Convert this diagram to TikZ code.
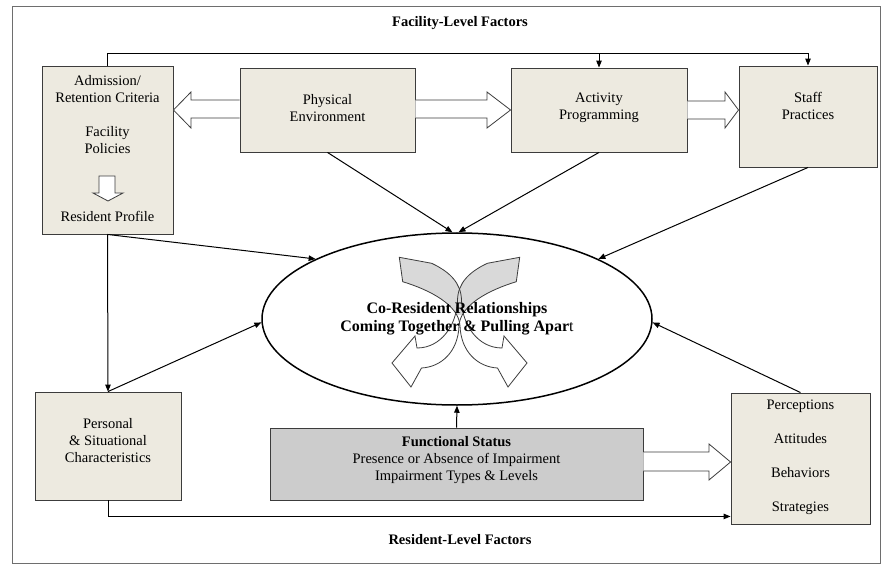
\documentclass[tikz,border=0pt]{standalone}
\usepackage{fontspec}
\setmainfont{Liberation Serif}
\usetikzlibrary{arrows.meta,shapes.geometric,calc}
\definecolor{boxfill}{RGB}{237,234,224}
\definecolor{boxline}{RGB}{60,60,60}
\definecolor{funcfill}{RGB}{204,204,204}
\definecolor{tailgray}{RGB}{217,217,217}
\definecolor{framegray}{RGB}{110,110,110}
\def\curvpath{(399.3,257.3) -- (431.7,263.3) .. controls (450,272) and (461,283) .. (461.5,300) .. controls (462,325) and (478,348) .. (502,348) -- (504,336) -- (527,363) -- (508,387) -- (497.5,368) .. controls (478,367) and (461,352) .. (460,326) .. controls (459,305) and (430,290) .. (402.7,281.7) -- cycle}
\begin{document}
\begin{tikzpicture}[x=1pt,y=-1pt,
  txt/.style={font=\fontsize{14.5}{17}\selectfont, align=center, inner sep=0pt},
  fbox/.style={draw=boxline, fill=boxfill, line width=0.9pt, inner sep=0pt, rectangle},
  conn/.style={line width=1pt, -{Triangle[length=7pt,width=5.5pt]}},
  fat/.style={draw=boxline, fill=white, line width=0.8pt, line join=miter},
  curv/.style={draw=boxline, line width=0.8pt}
]
\useasboundingbox (0,0) rectangle (881,564);
\draw[framegray, line width=1pt] (12,7) rectangle (880,563);

% boxes
\node[fbox, minimum width=131pt, minimum height=168pt] (adm) at (107.5,150) {};
\node[fbox, minimum width=175pt, minimum height=84pt] (phys) at (327.5,110) {};
\node[fbox, minimum width=176pt, minimum height=84pt] (act) at (599,110) {};
\node[fbox, minimum width=138pt, minimum height=101pt] (staff) at (808,116.5) {};
\node[fbox, minimum width=146pt, minimum height=108pt] (pers) at (108,446) {};
\node[fbox, fill=funcfill, minimum width=373pt, minimum height=72pt] (func) at (456.5,464) {};
\node[fbox, minimum width=139pt, minimum height=131pt] (perc) at (800.5,458.5) {};
\node[ellipse, draw, line width=1.5pt, fill=white, minimum width=390pt, minimum height=172pt, inner sep=0pt] (ell) at (457,319) {};

% box texts
\node[txt] (admT) at (107.5,148.5) {Admission/\\Retention Criteria\\[17pt]Facility\\Policies\\[51pt]Resident Profile};
\node[txt] (physT) at (327.5,108) {Physical\\Environment};
\node[txt] (actT) at (599,108) {Activity\\Programming};
\node[txt] (staffT) at (808,105.5) {Staff\\Practices};
\node[txt] (persT) at (108,440.5) {Personal\\\& Situational\\Characteristics};
\node[txt] (funcT) at (456.5,460) {\textbf{Functional Status}\\Presence or Absence of Impairment\\Impairment Types \& Levels};
\node[txt] (percT) at (800.5,457.5) {Perceptions\\[17pt]Attitudes\\[17pt]Behaviors\\[17pt]Strategies};
\node[txt, font=\fontsize{14.5}{17}\selectfont\bfseries] (facT) at (460,23) {Facility-Level Factors};
\node[txt, font=\fontsize{14.5}{17}\selectfont\bfseries] (resT) at (460,540) {Resident-Level Factors};

% small arrow inside admission box
\draw[fat] (99,176) -- (115,176) -- (115,193) -- (123,193) -- (108,201) -- (93,193) -- (99,193) -- cycle;

% block arrows
\draw[fat] (phys.west |- 0,100) -- (191,100) -- (191,92) -- (adm.east |- 0,110) -- (191,128) -- (191,118) -- (phys.west |- 0,118);
\draw[fat] (phys.east |- 0,100) -- (487,100) -- (487,92) -- (act.west) -- (487,128) -- (487,118) -- (phys.east |- 0,118);
\draw[fat] (act.east |- 0,101) -- (725,101) -- (725,92) -- (staff.west |- 0,110) -- (725,128) -- (725,119) -- (act.east |- 0,119);
\draw[fat] (func.east |- 0,452) -- (709,452) -- (709,444) -- (perc.west |- 0,462) -- (709,480) -- (709,471) -- (func.east |- 0,471);

% connectors
\draw[conn] (adm.north) |- ($(staff.north)+(0,-12)$) -- (staff.north);
\draw[conn] (act.north |- 0,54) -- (act.north);
\draw[conn] (phys.south) -- (ell.93);
\draw[conn] (act.south) -- (ell.89);
\draw[conn] (staff.south) -- (ell.23);
\draw[conn] (adm.south) -- (ell.157);
\draw[conn] (adm.south) -- (pers.north);
\draw[conn] (pers.north) -- (ell.181);
\draw[conn] (perc.north) -- (ell.-1);
\draw[conn] (func.north) -- (ell.south);
\draw[conn] (pers.south) |- ($(perc.south west)+(0,-8)$);

% crossing curved arrows
\fill[white] \curvpath;
\begin{scope}[xshift=919pt,xscale=-1]
  \fill[white] \curvpath;
\end{scope}
\begin{scope}
  \clip (380,250) rectangle (540,314);
  \fill[tailgray] \curvpath;
  \begin{scope}[xshift=919pt,xscale=-1]
    \fill[tailgray] \curvpath;
  \end{scope}
\end{scope}
\draw[curv] \curvpath;
\begin{scope}[xshift=919pt,xscale=-1]
  \draw[curv] \curvpath;
\end{scope}

\node[txt, font=\fontsize{16}{18}\selectfont\bfseries] (ellT) at (457,319) {Co-Resident Relationships\\Coming Together \& Pulling Apar\textmd{t}};
\end{tikzpicture}
\end{document}
